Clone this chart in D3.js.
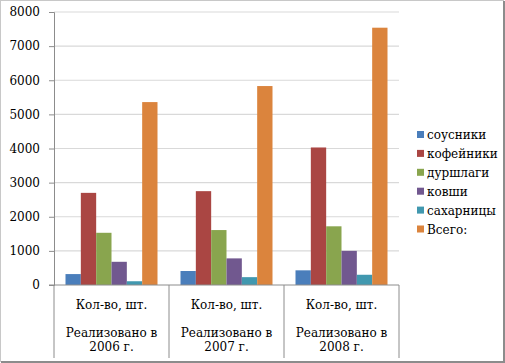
<!DOCTYPE html>
<html>
<head>
<meta charset="utf-8">
<script src="https://cdn.jsdelivr.net/npm/d3@7"></script>
<style>
  body { margin: 0; background: #fff; }
</style>
</head>
<body>
<div id="chart"></div>
<script>
// data
const categories = ["2006", "2007", "2008"];
const seriesNames = ["соусники", "кофейники", "дуршлаги", "ковши", "сахарницы", "Всего:"];
const sousniki = [320, 410, 430];
const kofeyniki = [2700, 2750, 4030];
const durshlagi = [1530, 1610, 1720];
const kovshi = [680, 780, 1000];
const sakharnitsy = [110, 230, 300];
const vsego = [5360, 5830, 7540];
const yTicks = [0, 1000, 2000, 3000, 4000, 5000, 6000, 7000, 8000];
const colors = ["#4a7ebb", "#aa4643", "#89a54e", "#71588f", "#4198af", "#db843d"];

const values = [sousniki, kofeyniki, durshlagi, kovshi, sakharnitsy, vsego];
const FONT = "'DejaVu Serif', serif";

const W = 505, H = 363;
const margin = {top: 12, left: 54, right: 106, bottom: 78};
const width = W - margin.left - margin.right;
const height = H - margin.top - margin.bottom;

const svg = d3.select("#chart").append("svg")
    .attr("width", W)
    .attr("height", H)
    .attr("font-family", FONT);

// outer frame
svg.append("rect")
    .attr("x", 0.5).attr("y", 0.5)
    .attr("width", W - 2).attr("height", H - 2)
    .attr("fill", "#fff")
    .attr("stroke", "#c8c8c8");
svg.append("path")
    .attr("d", "M" + (W - 1) + ",1 V" + (H - 1) + " H1")
    .attr("fill", "none")
    .attr("stroke", "#8c8c8c")
    .attr("stroke-width", 2);

const g = svg.append("g")
    .attr("transform", "translate(" + margin.left + "," + margin.top + ")");

const x0 = d3.scaleBand()
    .domain(categories)
    .range([0, width])
    .paddingInner(0)
    .paddingOuter(0);

const x1 = d3.scaleBand()
    .domain(d3.range(seriesNames.length))
    .range([0, x0.bandwidth()])
    .paddingOuter(0.75)
    .paddingInner(0);

const y = d3.scaleLinear()
    .domain([0, 8000])
    .range([height, 0]);

// gridlines
g.append("g")
    .selectAll("line")
    .data(yTicks.slice(1))
    .join("line")
    .attr("x1", 0).attr("x2", width)
    .attr("y1", d => y(d)).attr("y2", d => y(d))
    .attr("stroke", "#d9d9d9")
    .attr("stroke-width", 1.2);

// y axis
const yAxis = d3.axisLeft(y)
    .tickValues(yTicks)
    .tickSize(5)
    .tickPadding(9)
    .tickFormat(d3.format("d"));

const yG = g.append("g").call(yAxis)
    .attr("font-family", FONT)
    .attr("font-size", 12);
yG.select(".domain").attr("stroke", "#8c8c8c");
yG.selectAll(".tick line").attr("stroke", "#8c8c8c");
yG.selectAll("text").attr("fill", "#000");

// bars
categories.forEach((c, ci) => {
    g.append("g")
        .attr("transform", "translate(" + x0(c) + ",0)")
        .selectAll("rect")
        .data(values.map((arr, si) => ({si: si, v: arr[ci]})))
        .join("rect")
        .attr("x", d => x1(d.si))
        .attr("width", x1.bandwidth())
        .attr("y", d => y(d.v))
        .attr("height", d => height - y(d.v))
        .attr("fill", d => colors[d.si]);
});

// baseline and category separators
g.append("line")
    .attr("x1", -5).attr("x2", width)
    .attr("y1", height).attr("y2", height)
    .attr("stroke", "#8c8c8c");

const seps = categories.map(c => x0(c)).concat([width]);
g.append("g")
    .selectAll("line")
    .data(seps)
    .join("line")
    .attr("x1", d => d).attr("x2", d => d)
    .attr("y1", height).attr("y2", height + 73)
    .attr("stroke", "#8c8c8c");

// category labels
const labG = g.append("g").attr("font-size", 12);
categories.forEach(c => {
    const cx = x0(c) + x0.bandwidth() / 2;
    labG.append("text")
        .attr("x", cx).attr("y", height + 24)
        .attr("text-anchor", "middle")
        .text("Кол-во, шт.");
    labG.append("text")
        .attr("x", cx).attr("y", height + 52)
        .attr("text-anchor", "middle")
        .text("Реализовано в");
    labG.append("text")
        .attr("x", cx).attr("y", height + 66)
        .attr("text-anchor", "middle")
        .text(c + " г.");
});

// legend
const legend = svg.append("g")
    .attr("transform", "translate(417,131)")
    .attr("font-size", 12);
seriesNames.forEach((name, i) => {
    const row = legend.append("g").attr("transform", "translate(0," + (i * 18.9) + ")");
    row.append("rect")
        .attr("width", 7).attr("height", 7)
        .attr("fill", colors[i]);
    row.append("text")
        .attr("x", 10).attr("y", 8)
        .text(name);
});
</script>
</body>
</html>
